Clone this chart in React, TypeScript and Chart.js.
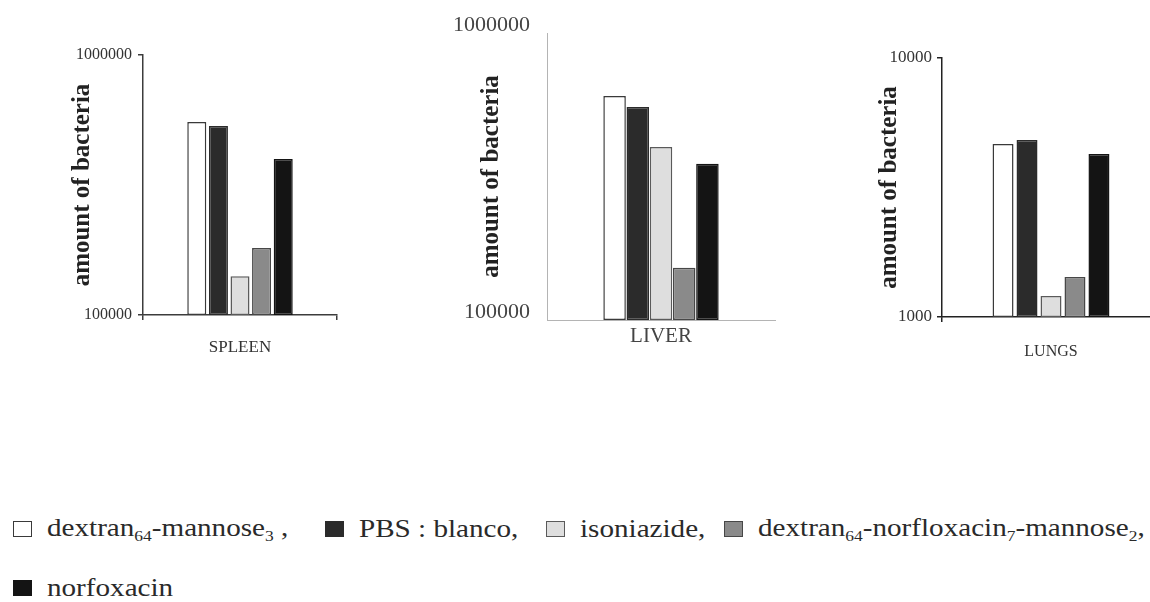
import React, { useEffect, useRef } from "react";
import { Chart, registerables } from "chart.js";

Chart.register(...registerables);

// ---------- data ----------
const SERIES_NAMES = [
  "dextran₆₄-mannose₃",
  "PBS : blanco",
  "isoniazide",
  "dextran₆₄-norfloxacin₇-mannose₂",
  "norfoxacin",
];
const LEGEND_SUFFIX = [" ,", ",", ",", ",", ""];
const ORGANS = ["SPLEEN", "LIVER", "LUNGS"];
const SPLEEN_VALUES = [552000, 533000, 141000, 181000, 398000];
const LIVER_VALUES = [603000, 552000, 401000, 152000, 350000];
const LUNGS_VALUES = [4660, 4820, 1205, 1427, 4260];
const SPLEEN_TICKS = [100000, 1000000];
const LIVER_TICKS = [100000, 1000000];
const LUNGS_TICKS = [1000, 10000];
const Y_TITLE = "amount of bacteria";

// ---------- styles ----------
const FILLS = ["#ffffff", "#2b2b2b", "#dedede", "#8a8a8a", "#141414"];
const BORDERS = ["#3a3a3a", "#2b2b2b", "#5a5a5a", "#474747", "#141414"];
const SERIF = "'Liberation Serif', 'Times New Roman', serif";
const BOX_HEIGHT = 380;

const PANELS = [
  {
    organ: ORGANS[0], values: SPLEEN_VALUES, ticks: SPLEEN_TICKS,
    box: { left: 0, width: 345 }, plot: { left: 143, right: 337, top: 55, bottom: 315 },
    titleX: 83, axisColor: "#3c3c3c", axisWidth: 1.5, tickColor: "#333", tickMark: 5,
    yFont: 16, yPad: 6, xFont: 17, xPad: 17, cat: 0.557, bar: 0.88, lift: false,
  },
  {
    organ: ORGANS[1], values: LIVER_VALUES, ticks: LIVER_TICKS,
    box: { left: 380, width: 410 }, plot: { left: 547, right: 775, top: 33, bottom: 320 },
    titleX: 492, axisColor: "#b4b4b4", axisWidth: 1, tickColor: "#444", tickMark: 0,
    yFont: 22, yPad: 17, xFont: 21, xPad: 4, cat: 0.509, bar: 0.97, lift: true,
  },
  {
    organ: ORGANS[2], values: LUNGS_VALUES, ticks: LUNGS_TICKS,
    box: { left: 820, width: 340 }, plot: { left: 942, right: 1160, top: 58, bottom: 317 },
    titleX: 889.5, axisColor: "#222", axisWidth: 1.5, tickColor: "#333", tickMark: 5,
    yFont: 17, yPad: 5, xFont: 16, xPad: 20, cat: 0.55, bar: 0.875, lift: false,
  },
];

const LEGEND_X = [13, 325, 546, 724, 13];
const LEGEND_ROW = [0, 0, 0, 0, 1];
const LEGEND_ROW_TOP = [516, 575];

function makeConfig(p: any): any {
  const titleSize = 25;
  const gridOpts = {
    display: p.tickMark > 0,
    drawOnChartArea: false,
    drawTicks: true,
    tickLength: p.tickMark,
    color: p.axisColor,
    lineWidth: p.axisWidth,
  };
  const borderOpts = { display: true, color: p.axisColor, width: p.axisWidth };
  return {
    type: "bar",
    data: {
      labels: [p.organ],
      datasets: SERIES_NAMES.map((name, i) => ({
        label: name,
        data: [p.values[i]],
        backgroundColor: FILLS[i],
        borderColor: BORDERS[i],
        borderWidth: 1.5,
        borderSkipped: false,
      })),
    },
    options: {
      responsive: true,
      maintainAspectRatio: false,
      animation: false,
      layout: {
        padding: {
          left: 0,
          right: p.box.left + p.box.width - p.plot.right,
          top: p.plot.top,
          bottom: 0,
        },
      },
      datasets: { bar: { categoryPercentage: p.cat, barPercentage: p.bar } },
      plugins: {
        legend: { display: false },
        tooltip: { enabled: false },
        title: { display: false },
      },
      scales: {
        x: {
          type: "category",
          offset: true,
          grid: { ...gridOpts, offset: true },
          border: borderOpts,
          ticks: {
            font: { family: SERIF, size: p.xFont },
            color: p.tickColor,
            padding: p.xPad,
            maxRotation: 0,
          },
          afterFit: (s: any) => {
            s.height = BOX_HEIGHT - p.plot.bottom;
          },
        },
        y: {
          type: "logarithmic",
          min: p.ticks[0],
          max: p.ticks[1],
          grid: gridOpts,
          border: borderOpts,
          ticks: {
            font: { family: SERIF, size: p.yFont, lineHeight: p.lift ? 0.7 : 1.2 },
            color: p.tickColor,
            padding: p.yPad,
            callback: (v: any) => (p.lift ? [String(v), ""] : String(v)),
          },
          afterBuildTicks: (s: any) => {
            s.ticks = p.ticks.map((v: number) => ({ value: v }));
          },
          afterFit: (s: any) => {
            s.width = p.plot.left - p.box.left;
          },
          title: {
            display: true,
            text: Y_TITLE,
            color: "#222",
            font: { family: SERIF, size: titleSize, weight: "bold" },
            padding: { top: p.titleX - p.box.left - (titleSize * 1.2) / 2, bottom: 0 },
          },
        },
      },
    },
  };
}

function ChartPanel({ p }: { p: any }) {
  const ref = useRef<HTMLCanvasElement | null>(null);
  useEffect(() => {
    if (!ref.current) return;
    const chart = new Chart(ref.current, makeConfig(p));
    return () => chart.destroy();
  }, [p]);
  return (
    <div
      style={{
        position: "absolute",
        left: p.box.left,
        top: 0,
        width: p.box.width,
        height: BOX_HEIGHT,
      }}
    >
      <canvas ref={ref} />
    </div>
  );
}

function renderLabel(s: string) {
  const parts: React.ReactNode[] = [];
  let buf = "";
  let inSub = false;
  const flush = (key: number) => {
    if (!buf) return;
    if (inSub) {
      parts.push(
        <span key={key} style={{ fontSize: "60%", position: "relative", top: "0.35em" }}>
          {buf}
        </span>
      );
    } else {
      parts.push(<span key={key}>{buf}</span>);
    }
    buf = "";
  };
  let k = 0;
  for (const ch of s) {
    const code = ch.codePointAt(0) || 0;
    const isSub = code >= 0x2080 && code <= 0x2089;
    if (isSub !== inSub) {
      flush(k++);
      inSub = isSub;
    }
    buf += isSub ? String.fromCharCode(48 + code - 0x2080) : ch;
  }
  flush(k++);
  return parts;
}

function Legend() {
  return (
    <>
      {SERIES_NAMES.map((name, i) => (
        <div
          key={name}
          style={{
            position: "absolute",
            left: LEGEND_X[i],
            top: LEGEND_ROW_TOP[LEGEND_ROW[i]],
            height: 26,
            display: "flex",
            alignItems: "center",
            whiteSpace: "nowrap",
          }}
        >
          <div
            style={{
              width: 19,
              height: 16,
              boxSizing: "border-box",
              background: FILLS[i],
              border: `1.5px solid ${BORDERS[i]}`,
              marginRight: 15,
              flex: "none",
            }}
          />
          <span
            style={{
              display: "inline-block",
              fontFamily: SERIF,
              fontSize: 26,
              lineHeight: "26px",
              color: "#2a2a2a",
              transform: "scaleX(1.12)",
              transformOrigin: "left center",
            }}
          >
            {renderLabel(name)}
            {LEGEND_SUFFIX[i]}
          </span>
        </div>
      ))}
    </>
  );
}

export default function App() {
  return (
    <div
      style={{
        position: "fixed",
        left: 0,
        top: 0,
        width: 1150,
        height: 602,
        overflow: "hidden",
        background: "#ffffff",
      }}
    >
      {PANELS.map((p) => (
        <ChartPanel key={p.organ} p={p} />
      ))}
      <Legend />
    </div>
  );
}
